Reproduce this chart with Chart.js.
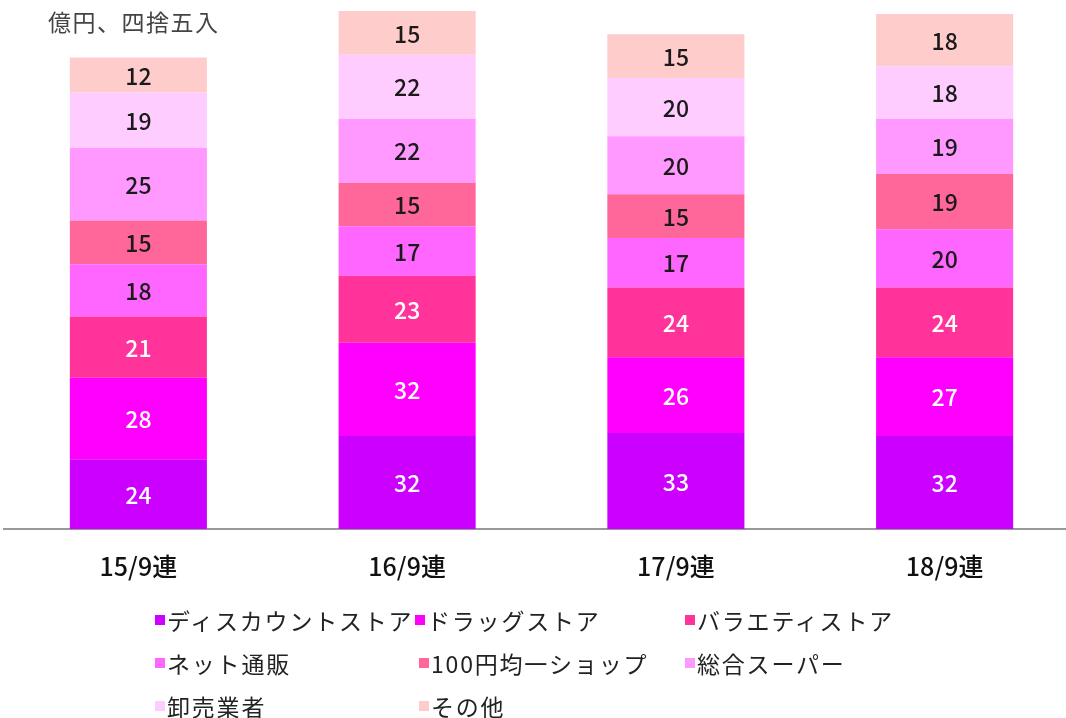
<!DOCTYPE html>
<html><head><meta charset="utf-8">
<script src="https://cdn.jsdelivr.net/npm/chart.js@4"></script>
<style>
html,body{margin:0;padding:0;background:#fff;overflow:hidden;width:1066px;height:718px;}
#wrap{position:absolute;left:0;top:0;width:1080px;height:600px;}
#unit{position:absolute;left:48px;top:6px;font:23px "Noto Sans CJK JP";letter-spacing:1.5px;color:#444;line-height:30px;}
#legend{position:absolute;left:0;top:0;width:1066px;height:718px;pointer-events:none;}
.li{position:absolute;font:23px "Noto Sans CJK JP";letter-spacing:1.8px;color:#222;white-space:nowrap;line-height:28px;}
.li span{position:absolute;left:0;top:9px;width:10px;height:10px;}
.li b{font-weight:400;margin-left:12px;}
</style></head>
<body>
<div id="wrap"><canvas id="c" width="1080" height="600"></canvas></div>
<div id="unit">億円、四捨五入</div>
<div id="legend"></div>
<script>
const categories = ['15/9連','16/9連','17/9連','18/9連'];
const seriesNames = ['ディスカウントストア','ドラッグストア','バラエティストア','ネット通販','100円均一ショップ','総合スーパー','卸売業者','その他'];
const discount = [24,32,33,32];
const drug = [28,32,26,27];
const variety = [21,23,24,24];
const online = [18,17,17,20];
const yen100 = [15,15,15,19];
const gms = [25,22,20,19];
const wholesale = [19,22,20,18];
const other = [12,15,15,18];
const colors = ['#CC00FF','#FF00FF','#FF3399','#FF66FF','#FF6699','#FF99FF','#FFCCFF','#FFCCCC'];
const labelColors = ['#ffffff','#ffffff','#ffffff','#1a1a1a','#1a1a1a','#1a1a1a','#1a1a1a','#1a1a1a'];
const seriesValues = [discount,drug,variety,online,yen100,gms,wholesale,other];

const datasets = seriesValues.map((v,i)=>({
  label: seriesNames[i], data: v, backgroundColor: colors[i],
  borderWidth: 0, barPercentage: 0.51, categoryPercentage: 1
}));

const valueLabels = {
  id:'valueLabels',
  afterDatasetsDraw(chart){
    const ctx = chart.ctx;
    ctx.save();
    ctx.font = '500 23px "Noto Sans CJK JP"';
    ctx.textAlign='center'; ctx.textBaseline='middle';
    chart.data.datasets.forEach((ds,i)=>{
      chart.getDatasetMeta(i).data.forEach((el,j)=>{
        const y = (el.y + el.base)/2;
        ctx.fillStyle = labelColors[i];
        ctx.fillText(String(ds.data[j]), el.x, y+1);
      });
    });
    ctx.restore();
  }
};

new Chart(document.getElementById('c'),{
  type:'bar',
  data:{labels:categories, datasets},
  options:{
    responsive:false, animation:false,
    layout:{padding:{left:4,right:1,top:11,bottom:0}},
    plugins:{legend:{display:false},tooltip:{enabled:false}},
    scales:{
      x:{stacked:true, grid:{display:false}, border:{display:true,color:'#999',width:2},
         ticks:{color:'#111',font:{family:'"Noto Sans CJK JP"',size:25,weight:'500'},padding:14},
         afterFit(s){ s.height = 600-529; }},
      y:{stacked:true, display:false, min:0, max:178}
    }
  },
  plugins:[valueLabels]
});

const legendPos = [[155,606],[415,606],[685,606],[155,649],[419,649],[685,649],[155,692],[419,692]];
const lg = document.getElementById('legend');
seriesNames.forEach((n,i)=>{
  const d = document.createElement('div');
  d.className='li';
  d.style.left=legendPos[i][0]+'px'; d.style.top=legendPos[i][1]+'px';
  d.innerHTML='<span style="background:'+colors[i]+'"></span><b>'+n+'</b>';
  lg.appendChild(d);
});
</script>
</body></html>
